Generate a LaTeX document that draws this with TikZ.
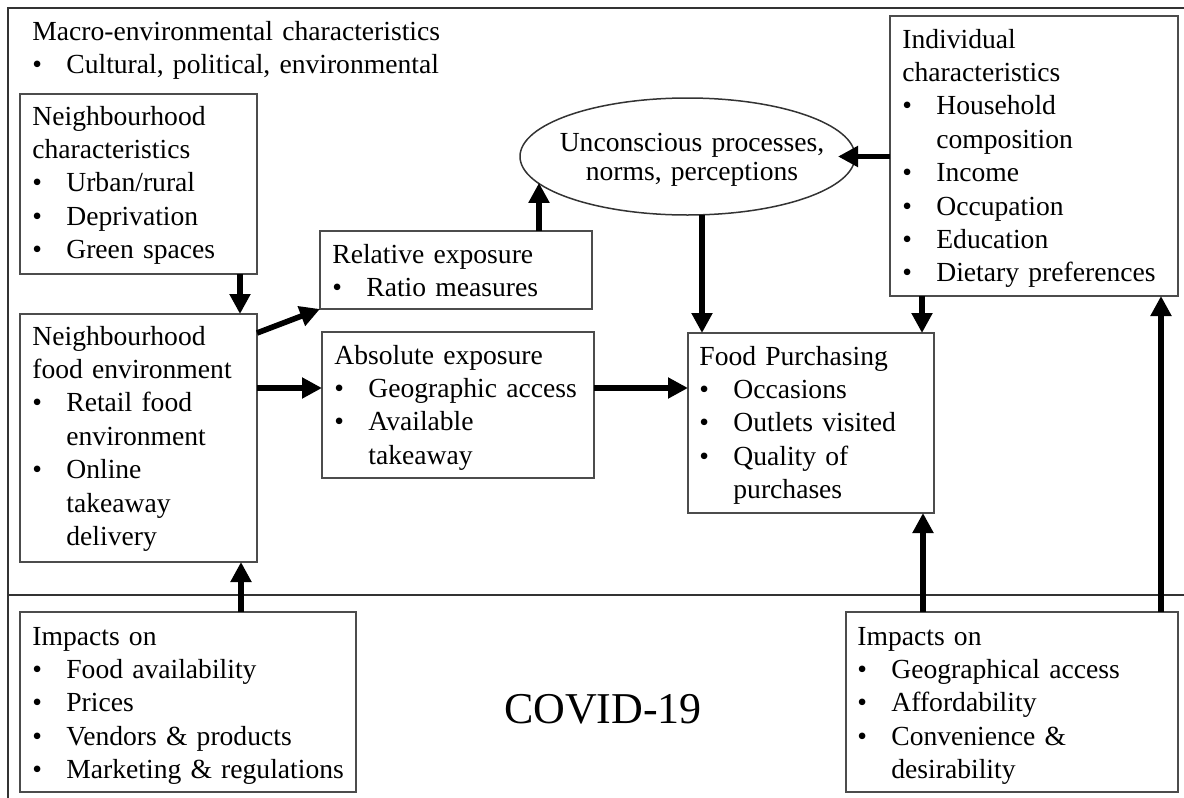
\documentclass[tikz,border=0pt]{standalone}
\usepackage{fontspec}
\setmainfont{Liberation Serif}
\usetikzlibrary{arrows.meta,shapes.geometric}

% bullet item and its continuation line
\newcommand{\bul}[1]{\makebox[17pt][l]{\textbullet}#1}
\newcommand{\cont}[1]{\hspace*{17pt}#1}

\begin{document}
\begin{tikzpicture}[x=0.5pt,y=-0.5pt,
  panel/.style={draw=black!70, line width=0.75pt, rectangle, inner sep=0pt,
                outer sep=0pt, anchor=north west},
  txt/.style={anchor=base west, inner sep=0pt, text width=200pt, align=left,
              font=\fontsize{13.8}{16.7}\selectfont},
  arr/.style={line width=2.8pt, -{Triangle[width=10pt,length=10pt]}},
  frame/.style={draw=black!80, line width=0.75pt}]

\useasboundingbox (0,0) rectangle (1184,798);

% outer frame and the COVID-19 divider
\coordinate (fTL) at (8,8);
\coordinate (fTR) at (1184,8);
\coordinate (fBL) at (8,798);
\coordinate (dL) at (8,595);
\coordinate (dR) at (1184,595);
\draw[frame] (fBL) -- (fTL) -- (fTR);
\draw[frame] (dL) -- (dR);

% macro-environment heading
\node[txt, text width=300pt] (macro) at (32,40)
  {Macro-environmental characteristics\\ \bul{Cultural, political, environmental}};

% boxes
\node[panel, minimum width=118.5pt, minimum height=90pt]  (NC)  at (20,94)  {};
\node[panel, minimum width=118.5pt, minimum height=124pt] (NFE) at (20,314) {};
\node[panel, minimum width=136pt,   minimum height=39pt]  (Rel) at (320,231) {};
\node[panel, minimum width=136pt,   minimum height=73pt]  (Abs) at (322,332) {};
\node[panel, minimum width=123pt,   minimum height=90pt]  (FP)  at (688,333) {};
\node[panel, minimum width=144pt,   minimum height=140pt] (Ind) at (890,16)  {};
\node[panel, minimum width=168pt,   minimum height=90pt]  (BL)  at (20,612) {};
\node[panel, minimum width=166pt,   minimum height=90pt]  (BR)  at (846,612) {};
\node[draw=black!80, line width=0.75pt, ellipse, minimum width=167.5pt,
      minimum height=58.5pt, inner sep=0pt, outer sep=0pt] (ell) at (687.5,156.5) {};

% box texts
\node[txt] (tNC) at ([xshift=6pt,yshift=-15.5pt]NC.north west)
  {Neighbourhood\\ characteristics\\ \bul{Urban/rural}\\ \bul{Deprivation}\\ \bul{Green spaces}};
\node[txt] (tNFE) at ([xshift=6pt,yshift=-15.5pt]NFE.north west)
  {Neighbourhood\\ food environment\\ \bul{Retail food}\\ \cont{environment}\\
   \bul{Online}\\ \cont{takeaway}\\ \cont{delivery}};
\node[txt] (tRel) at ([xshift=6pt,yshift=-16pt]Rel.north west)
  {Relative exposure\\ \bul{Ratio measures}};
\node[txt] (tAbs) at ([xshift=6pt,yshift=-16pt]Abs.north west)
  {Absolute exposure\\ \bul{Geographic access}\\ \bul{Available}\\ \cont{takeaway}};
\node[txt] (tFP) at ([xshift=5.5pt,yshift=-16pt]FP.north west)
  {Food Purchasing\\ \bul{Occasions}\\ \bul{Outlets visited}\\ \bul{Quality of}\\ \cont{purchases}};
\node[txt] (tInd) at ([xshift=6pt,yshift=-16pt]Ind.north west)
  {Individual\\ characteristics\\ \bul{Household}\\ \cont{composition}\\ \bul{Income}\\
   \bul{Occupation}\\ \bul{Education}\\ \bul{Dietary preferences}};
\node[txt] (tBL) at ([xshift=6pt,yshift=-16.5pt]BL.north west)
  {Impacts on\\ \bul{Food availability}\\ \bul{Prices}\\ \bul{Vendors \& products}\\
   \bul{Marketing \& regulations}};
\node[txt] (tBR) at ([xshift=5.5pt,yshift=-16.5pt]BR.north west)
  {Impacts on\\ \bul{Geographical access}\\ \bul{Affordability}\\ \bul{Convenience \&}\\
   \cont{desirability}};
\node[anchor=base, inner sep=0pt, text width=170pt, align=center,
      font=\fontsize{13.8}{14.6}\selectfont] (tEll)
  at ([xshift=2.25pt,yshift=2.75pt]ell.center)
  {Unconscious processes,\\ norms, perceptions};

\node[anchor=base, inner sep=0pt, font=\fontsize{22}{26}\selectfont] (covid)
  at (603,723) {COVID-19};

% connector end points
\coordinate (ncOut)  at ([xshift=110pt]NC.south west);
\coordinate (blOut)  at ([xshift=110.5pt]BL.north west);
\coordinate (nfeRel) at ([yshift=-9.5pt]NFE.north east);
\coordinate (absIn)  at ([yshift=-28pt]Abs.north west);
\coordinate (relOut) at ([xshift=109.5pt]Rel.north west);
\coordinate (fpIn)   at ([xshift=7pt]FP.north west);
\coordinate (indOut) at ([xshift=16pt]Ind.south west);
\coordinate (brFP)   at ([xshift=38.5pt]BR.north west);
\coordinate (brInd)  at ([xshift=157.5pt]BR.north west);

% connectors
\draw[arr] (ncOut) -- (ncOut |- NFE.north);
\draw[arr] (blOut) -- (blOut |- NFE.south);
\draw[arr] (nfeRel) -- (Rel.south west);
\draw[arr] (NFE.east |- absIn) -- (absIn);
\draw[arr] (Abs.east |- absIn) -- (FP.west |- absIn);
\draw[arr] (relOut) -- (relOut |- ell.190.3);
\draw[arr] (fpIn |- ell.south) -- (fpIn);
\draw[arr] (Ind.west |- ell.east) -- ([xshift=-8.5pt]ell.east);
\draw[arr] (indOut) -- (indOut |- FP.north);
\draw[arr] (brFP) -- (brFP |- FP.south);
\draw[arr] (brInd) -- (brInd |- Ind.south);

\end{tikzpicture}
\end{document}
